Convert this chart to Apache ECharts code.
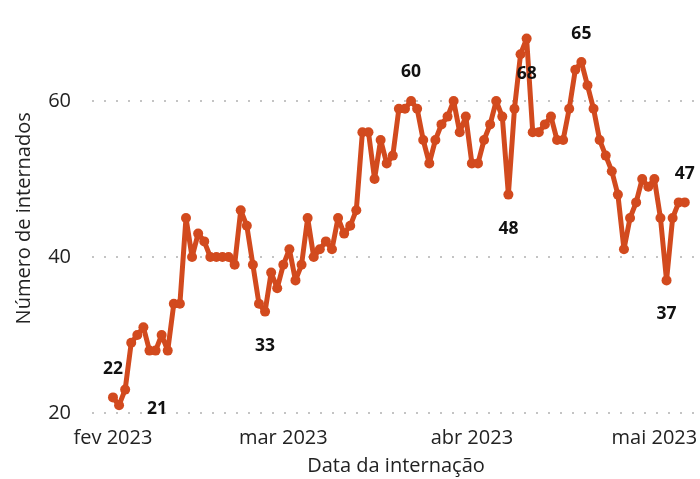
<!DOCTYPE html>
<html>
<head>
<meta charset="utf-8">
<script src="https://cdn.jsdelivr.net/npm/echarts@6/dist/echarts.min.js"></script>
<style>html,body{margin:0;padding:0;background:#fff}#c{width:700px;height:479px}</style>
</head>
<body>
<div id="c"></div>
<script>
// Daily admissions, starting 2023-02-01, one value per day
const startDate = '2023-02-01';
const internados = [22,21,23,29,30,31,28,28,30,28,
  34,34,45,40,43,42,40,40,40,40,
  39,46,44,39,34,33,38,36,39,41,
  37,39,45,40,41,42,41,45,43,44,
  46,56,56,50,55,52,53,59,59,60,
  59,55,52,55,57,58,60,56,58,52,
  52,55,57,60,58,48,59,66,68,56,
  56,57,58,55,55,59,64,65,62,59,
  55,53,51,48,41,45,47,50,49,50,
  45,37,45,47,47];
const monthTicks = ['2023-02-01','2023-03-01','2023-04-01','2023-05-01'];
const monthLabels = ['fev 2023','mar 2023','abr 2023','mai 2023'];
const yTicks = [20, 40, 60];
// indices of labelled points
const labelledIdx = [0, 1, 25, 49, 65, 68, 77, 91, 94];

const DAY = 86400000;
const t0 = Date.parse(startDate + 'T00:00:00Z');
// x = days since start date
const tickDays = monthTicks.map(d => Math.round((Date.parse(d + 'T00:00:00Z') - t0) / DAY));
const seriesData = internados.map((v, i) => [i, v]);

// label placement: side, distance (px), extra offset
const labelPlace = {
  0: ['top', 14.5, [0, 0]], 1: ['right', 23, [0, 4]], 25: ['bottom', 20.5, [0, 0]],
  49: ['top', 14.5, [0, 0]], 65: ['bottom', 20.5, [0, 0]], 68: ['bottom', 21.5, [0, 0]],
  77: ['top', 13.5, [0, 0]], 91: ['bottom', 19.5, [0, 0]], 94: ['top', 14.5, [0, 0]]
};
const data = seriesData.map((p, i) => {
  if (labelledIdx.indexOf(i) < 0) return p;
  return {
    value: p,
    label: {
      show: true, position: labelPlace[i][0], distance: labelPlace[i][1],
      offset: labelPlace[i][2],
      formatter: String(p[1]), color: '#111', fontWeight: 'bold',
      fontSize: 17.5, fontFamily: 'Open Sans'
    }
  };
});

const chart = echarts.init(document.getElementById('c'), null, {renderer: 'canvas'});
const color = '#d24a1e';
chart.setOption({
  animation: false,
  textStyle: {fontFamily: 'Open Sans'},
  grid: {left: 92, right: 0, top: 23, bottom: 50.4, containLabel: false, outerBoundsMode: 'none'},
  xAxis: {
    type: 'value',
    min: -3.45,
    max: 96.5,
    name: 'Data da internação',
    nameLocation: 'middle',
    nameGap: 28,
    nameTextStyle: {fontSize: 20, color: '#222', fontFamily: 'Open Sans'},
    axisLine: {show: false},
    axisTick: {show: false, customValues: tickDays},
    splitLine: {show: false},
    axisLabel: {
      customValues: tickDays,
      margin: 0,
      fontSize: 20,
      color: '#222',
      fontFamily: 'Open Sans',
      formatter: function (v) {
        const k = tickDays.indexOf(v);
        return k >= 0 ? monthLabels[k] : '';
      }
    }
  },
  yAxis: {
    type: 'value',
    min: 18,
    max: 70,
    name: 'Número de internados',
    nameLocation: 'middle',
    nameGap: 58,
    nameTextStyle: {fontSize: 20, color: '#222', fontFamily: 'Open Sans', padding: [0, 0, 0, 15]},
    axisLine: {show: false},
    axisTick: {show: false, customValues: yTicks},
    axisLabel: {customValues: yTicks, margin: 21, fontSize: 20, color: '#222', fontFamily: 'Open Sans'},
    splitLine: {show: true, lineStyle: {color: '#c4c4c4', width: 2, type: [2, 10]}}
  },
  series: [{
    type: 'line',
    data: data,
    symbol: 'circle',
    symbolSize: 10,
    showAllSymbol: true,
    lineStyle: {color: color, width: 5},
    itemStyle: {color: color},
    label: {show: false}
  }]
});
</script>
</body>
</html>
